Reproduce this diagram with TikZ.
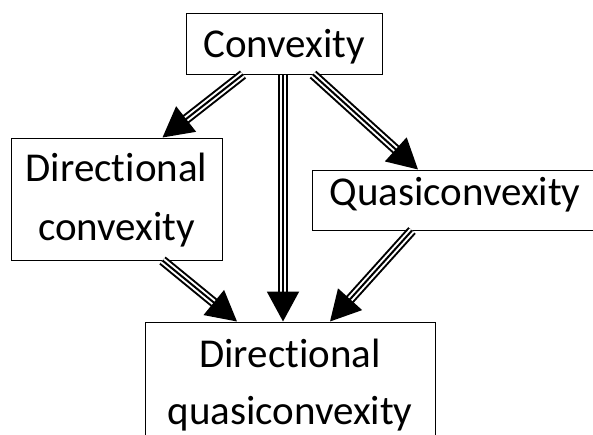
\documentclass[tikz,border=0pt]{standalone}
\usepackage{fontspec}
\setmainfont{Carlito}[Ligatures=NoCommon]
\usetikzlibrary{arrows.meta}

\begin{document}
\begin{tikzpicture}[
    x=1pt, y=-1pt,
    % Caixas dos conceitos
    caixa/.style={
        draw, line width=1pt, fill=white, inner sep=0pt,
        font=\fontsize{41}{59}\selectfont, align=center
    },
    % Corpo triplo das setas
    cano/.style={draw, line width=2pt, double=white, double distance=6pt, shorten >=26pt},
    % Linha central com a ponta cheia
    ponta/.style={draw, line width=2pt, -{Triangle[length=30pt, width=32pt]}}
]
\useasboundingbox (0,0) rectangle (593,434);
\clip (0,0) rectangle (593,434);

% ---- TOPO ----
\node[caixa, minimum width=196pt, minimum height=61pt,
      text height=29pt, text depth=2pt] (conv) at (284, 43.5) {Convexity};

% ---- NÍVEL INTERMEDIÁRIO ----
\node[caixa, minimum width=211pt, minimum height=122pt,
      text height=90pt, text depth=8pt] (dconv) at (116.5, 199) {Directional\\convexity};
\node[caixa, minimum width=286pt, minimum height=60pt,
      text height=20pt, text depth=10pt] (qconv) at (455, 200) {Quasiconvexity};

% ---- BASE ----
\node[caixa, minimum width=290pt, minimum height=140pt,
      font=\fontsize{41}{57}\selectfont,
      text height=88pt, text depth=24pt] (dqconv) at (290, 392) {Directional\\quasiconvexity};

% ---- SETAS ----
\draw[cano]  ([xshift=-41pt]conv.south) -- ([xshift=46pt]dconv.north);
\draw[ponta] ([xshift=-41pt]conv.south) -- ([xshift=46pt]dconv.north);

\draw[cano]  ([xshift=-1pt]conv.south) -- ([xshift=-7pt]dqconv.north);
\draw[ponta] ([xshift=-1pt]conv.south) -- ([xshift=-7pt]dqconv.north);

\draw[cano]  ([xshift=29pt]conv.south) -- ([xshift=-37pt]qconv.north);
\draw[ponta] ([xshift=29pt]conv.south) -- ([xshift=-37pt]qconv.north);

\draw[cano]  ([xshift=46pt]dconv.south) -- ([xshift=-53pt]dqconv.north);
\draw[ponta] ([xshift=46pt]dconv.south) -- ([xshift=-53pt]dqconv.north);

\draw[cano]  ([xshift=-43pt]qconv.south) -- ([xshift=40pt]dqconv.north);
\draw[ponta] ([xshift=-43pt]qconv.south) -- ([xshift=40pt]dqconv.north);

\end{tikzpicture}
\end{document}
